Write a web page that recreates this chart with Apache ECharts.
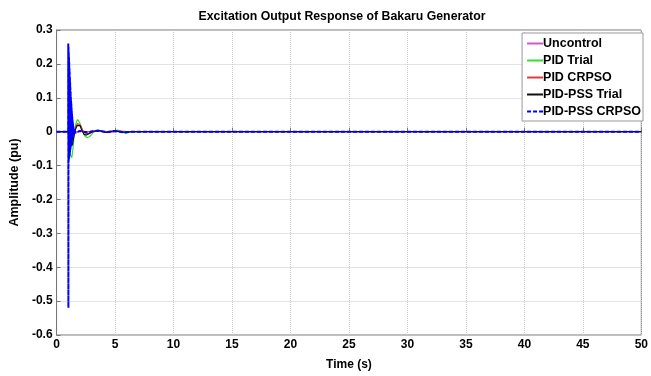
<!DOCTYPE html>
<html>
<head>
<meta charset="utf-8">
<script src="https://cdn.jsdelivr.net/npm/echarts@6/dist/echarts.min.js"></script>
<style>
html,body{margin:0;padding:0;background:#fff;}
#chart{width:651px;height:376px;}
</style>
</head>
<body>
<div id="chart"></div>
<script>
var seriesNames = ['Uncontrol', 'PID Trial', 'PID CRPSO', 'PID-PSS Trial', 'PID-PSS CRPSO'];
var xTicks = [0, 5, 10, 15, 20, 25, 30, 35, 40, 45, 50];
var yTicks = [-0.6, -0.5, -0.4, -0.3, -0.2, -0.1, 0, 0.1, 0.2, 0.3];

var tUncontrol = [0, 0.99, 1.1, 1.3, 1.6, 2.0, 2.5, 3.0, 3.6, 4.5, 5.2, 6, 50];
var vUncontrol = [0, 0, -0.01, 0.008, -0.006, 0.004, -0.003, 0.002, 0.002, -0.001, 0.001, 0, 0];

var tPidTrial = [0, 0.99, 1.0, 1.05, 1.1, 1.2, 1.3, 1.4, 1.5, 1.6, 1.7, 1.8, 1.9, 2.0, 2.2, 2.4, 2.6, 2.8, 3.0, 3.2, 3.5, 3.9, 4.3, 4.8, 5.2, 5.6, 5.9, 6.3, 7, 8, 50];
var vPidTrial = [0, 0, 0.01, -0.03, -0.05, -0.07, -0.077, -0.05, -0.01, 0.015, 0.03, 0.036, 0.034, 0.025, 0.005, -0.012, -0.018, -0.015, -0.008, 0.0, 0.005, 0.001, -0.003, 0.002, 0.005, 0.0, -0.005, -0.001, 0, 0, 0];

var tPidCrpso = [0, 0.99, 1.05, 1.15, 1.25, 1.35, 1.5, 1.65, 1.8, 1.92, 2.05, 2.25, 2.5, 2.75, 3.0, 3.5, 4.0, 4.5, 5.2, 6, 50];
var vPidCrpso = [0, 0, -0.02, -0.035, -0.04, -0.03, -0.005, 0.015, 0.024, 0.026, 0.018, 0.003, -0.006, -0.006, -0.002, 0.003, 0, -0.002, 0.002, 0, 0];

var tPssTrial = [0, 0.99, 1.05, 1.15, 1.25, 1.35, 1.45, 1.6, 1.75, 1.9, 2.0, 2.15, 2.35, 2.55, 2.8, 3.1, 3.6, 4.2, 5.0, 5.6, 6.5, 50];
var vPssTrial = [0, 0, -0.02, -0.04, -0.045, -0.04, -0.02, 0.005, 0.018, 0.021, 0.018, 0.005, -0.008, -0.01, -0.005, 0.001, 0.004, -0.002, 0.003, -0.002, 0, 0];

var tPssCrpso = [0, 0.99, 1.00, 1.01, 1.02, 1.03, 1.04, 1.05, 1.06, 1.07, 1.08, 1.09, 1.10, 1.11, 1.12, 1.13, 1.14, 1.15, 1.16, 1.17, 1.18, 1.19, 1.20, 1.21, 1.22, 1.23, 1.24, 1.25, 1.26, 1.27, 1.28, 1.29, 1.30, 1.31, 1.32, 1.33, 1.34, 1.35, 1.36, 1.37, 1.38, 1.39, 1.40, 1.41, 1.42, 1.43, 1.44, 1.45, 1.47, 1.49, 1.52, 1.6, 2.0, 2.6, 3.5, 4.3, 5.0, 5.8, 6.5, 50];
var vPssCrpso = [0, 0, 0.26, -0.52, 0.25, -0.09, 0.235, -0.085, 0.22, -0.08, 0.205, -0.075, 0.19, -0.07, 0.175, -0.065, 0.16, -0.06, 0.145, -0.055, 0.13, -0.05, 0.118, -0.046, 0.105, -0.042, 0.094, -0.038, 0.083, -0.034, 0.072, -0.03, 0.062, -0.026, 0.053, -0.022, 0.045, -0.019, 0.037, -0.016, 0.03, -0.013, 0.024, -0.01, 0.018, -0.008, 0.013, -0.006, 0.008, -0.004, 0.004, -0.003, 0.002, -0.002, 0.003, -0.001, 0.002, -0.002, 0, 0];

var colors = ['#d452d4', '#2fe02f', '#e03a3a', '#111111', '#0000ff'];

function pairs(t, v) { return t.map(function (x, i) { return [x, v[i]]; }); }

var dataSets = [
  pairs(tUncontrol, vUncontrol),
  pairs(tPidTrial, vPidTrial),
  pairs(tPidCrpso, vPidCrpso),
  pairs(tPssTrial, vPssTrial),
  pairs(tPssCrpso, vPssCrpso)
];

var fontFam = '"Liberation Sans", Arial, sans-serif';
var chart = echarts.init(document.getElementById('chart'), null, {renderer: 'canvas'});
var option = {
  animation: false,
  backgroundColor: '#fff',
  title: {
    text: 'Excitation Output Response of Bakaru Generator',
    left: 337, top: 6, textAlign: 'center',
    textStyle: {fontFamily: fontFam, fontSize: 12.3, fontWeight: 'bold', color: '#000'}
  },
  grid: {left: 54, right: 7, top: 30, bottom: 31, show: true, borderColor: '#777', borderWidth: 1, backgroundColor: '#fff'},
  legend: {
    data: seriesNames,
    orient: 'vertical',
    right: 8, top: 33,
    itemWidth: 16, itemHeight: 10, itemGap: 4,
    itemStyle: {opacity: 0},
    backgroundColor: '#fff', borderColor: '#999', borderWidth: 1,
    padding: [4, 2, 3, 4],
    textStyle: {fontFamily: fontFam, fontSize: 12.5, fontWeight: 'bold', color: '#000', padding: [0, 0, 0, -5]}
  },
  xAxis: {
    type: 'value', min: xTicks[0], max: xTicks[xTicks.length - 1], interval: 5,
    name: 'Time (s)', nameLocation: 'middle', nameGap: 24,
    nameTextStyle: {fontFamily: fontFam, fontSize: 12, fontWeight: 'bold', color: '#000'},
    axisLine: {show: true, lineStyle: {color: '#777'}},
    axisTick: {show: true, inside: true, length: 4, lineStyle: {color: '#777'}},
    axisLabel: {fontFamily: fontFam, fontSize: 12, fontWeight: 'bold', color: '#000', margin: 4},
    splitLine: {show: true, lineStyle: {color: '#c8c8c8', type: 'dotted', width: 1}}
  },
  yAxis: {
    type: 'value', min: yTicks[0], max: yTicks[yTicks.length - 1], interval: 0.1,
    name: 'Amplitude (pu)', nameLocation: 'middle', nameGap: 28,
    nameTextStyle: {fontFamily: fontFam, fontSize: 12.5, fontWeight: 'bold', color: '#000'},
    axisLine: {show: true, lineStyle: {color: '#777'}},
    axisTick: {show: true, inside: true, length: 4, lineStyle: {color: '#777'}},
    axisLabel: {fontFamily: fontFam, fontSize: 12, fontWeight: 'bold', color: '#000', margin: 4,
      formatter: function (v) { return String(Math.round(v * 10) / 10); }},
    splitLine: {show: true, lineStyle: {color: '#c8c8c8', type: 'dotted', width: 1}}
  },
  series: seriesNames.map(function (n, i) {
    return {
      name: n, type: 'line', data: dataSets[i], showSymbol: false, symbol: 'none',
      color: colors[i],
      lineStyle: {color: colors[i], width: i === 4 ? 2 : 1.2, type: i === 4 ? [4, 2] : 'solid'},
      z: 2 + i
    };
  })
};
chart.setOption(option);
</script>
</body>
</html>
